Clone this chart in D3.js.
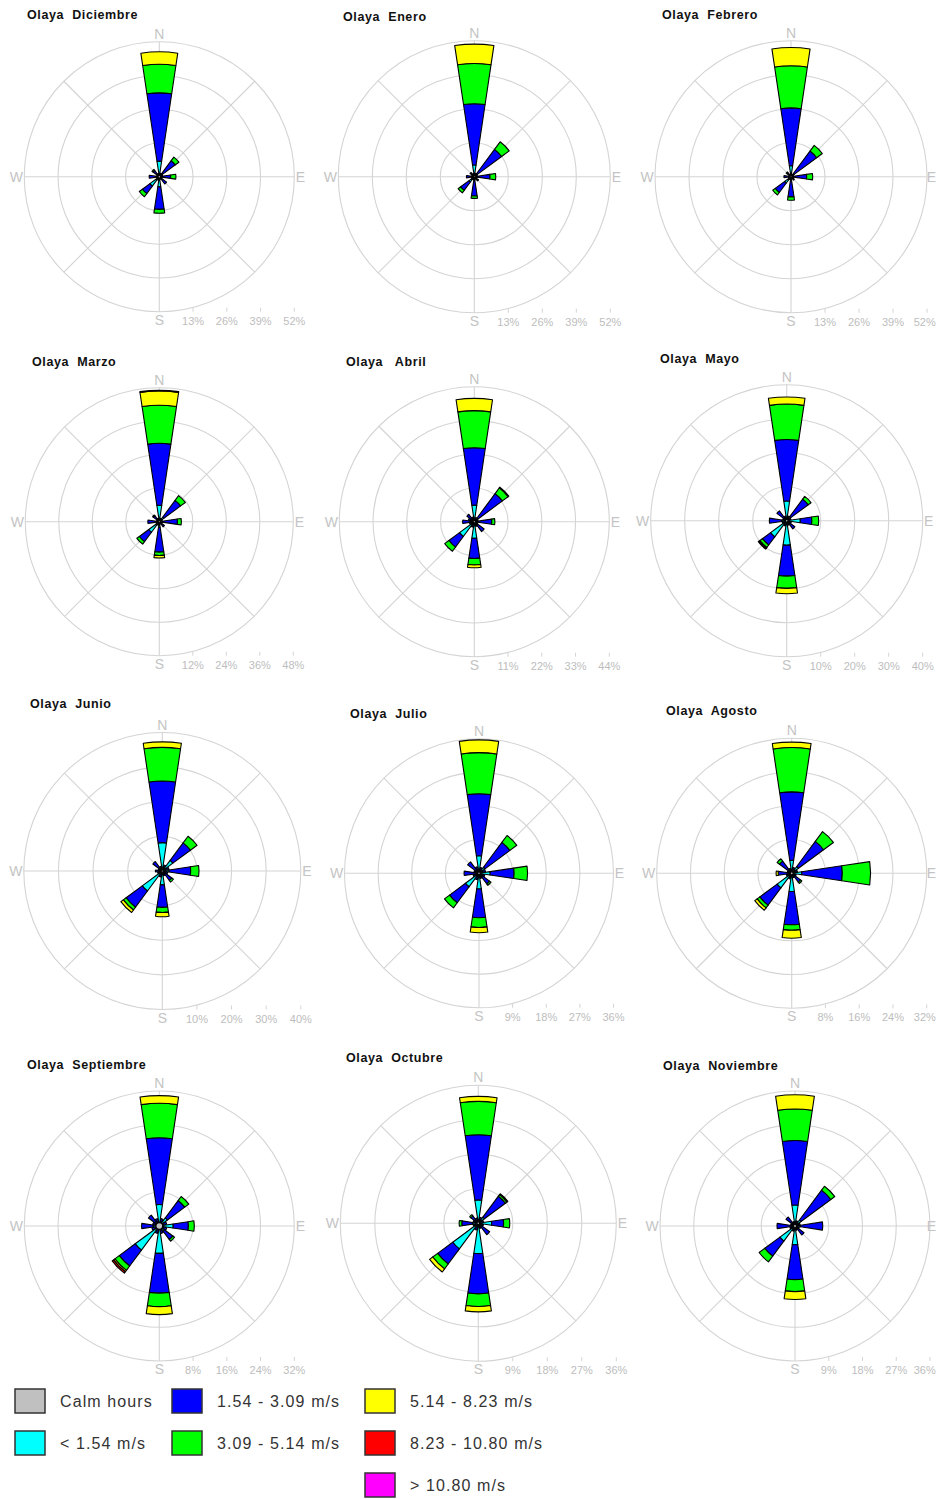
<!DOCTYPE html>
<html><head><meta charset="utf-8">
<script src="https://cdn.jsdelivr.net/npm/d3@7"></script>
<style>
html,body{margin:0;padding:0;background:#fff;}
svg{display:block;}
text{font-family:"Liberation Sans",Arial,sans-serif;}
</style></head><body>
<svg id="chart" width="937" height="1499"></svg>
<script>
// ---------------- DATA ----------------
const directions = ["N","NNE","NE","ENE","E","ESE","SE","SSE","S","SSW","SW","WSW","W","WNW","NW","NNW"];
const speedClasses = ["< 1.54 m/s","1.54 - 3.09 m/s","3.09 - 5.14 m/s","5.14 - 8.23 m/s","8.23 - 10.80 m/s","> 10.80 m/s"];
const speedColors = ["#00ffff","#0000ff","#00ff00","#ffff00","#ff0000","#ff00ff"];
const calmLabel = "Calm hours";
const calmColor = "#c0c0c0";
const station = "Olaya";
const monthNames = ["Diciembre","Enero","Febrero","Marzo","Abril","Mayo","Junio","Julio","Agosto","Septiembre","Octubre","Noviembre"];
const titleGaps = ["  ","  ","  ","  ","   ","  ","  ","  ","  ","  ","  ","  "];
const tickLabels = [
  [13,26,39,52],[13,26,39,52],[13,26,39,52],
  [12,24,36,48],[11,22,33,44],[10,20,30,40],
  [10,20,30,40],[9,18,27,36],[8,16,24,32],
  [8,16,24,32],[9,18,27,36],[9,18,27,36]
];
const calmPct = [0.5,0.4,0.4,0.4,0.4,0.4,0.35,0.35,0.35,0.8,0.35,0.4];

// rows: N..NNW ; columns: <1.54, 1.54-3.09, 3.09-5.14, 5.14-8.23, 8.23-10.80, >10.80 (%)
const diciembre = [
  [6.0,26.3,11.0,4.8],[0.8,0.6],[1.5,6.2,1.7],[0.8,0.5],[1.0,3.4,2.0],[0.6,0.5],[1.0,2.5],[0.7,0.3],
  [3.9,8.7,1.5],[1.0,0.4],[4.5,3.6,1.5],[0.8,0.4],[1.0,2.9],[0.6,0.4],[0.8,2.2,0.5],[0.8,0.5]
];
const enero = [
  [4.5,23.4,15.4,7.4],[0.8,0.5],[1.5,11.5,3.6],[0.6,0.6],[1.2,4.8,2.2],[0.5,0.5],[0.8,1.2],[0.5,0.5],
  [1.5,5.9,0.9],[0.7,0.5],[2.5,4.0,1.2],[0.6,0.6],[0.8,2.2],[0.5,0.5],[0.6,1.4],[0.6,0.6]
];
const febrero = [
  [4.2,22.1,16.1,7.0],[0.6,0.4],[1.5,10.7,2.7],[0.5,0.5],[1.0,5.0,2.3],[0.5,0.4],[0.6,1.0],[0.5,0.4],
  [1.5,6.2,1.3],[0.6,0.5],[3.0,4.5,1.2],[0.5,0.5],[0.8,1.9],[0.5,0.4],[0.6,1.4,0.3],[0.6,0.5]
];
const marzo = [
  [5.9,22.2,13.6,5.1,0.3],[0.8,0.5],[2.0,7.5,2.1],[0.6,0.5],[1.0,5.5,1.4],[0.5,0.5],[0.8,1.5],[0.5,0.4],
  [2.0,8.9,1.2,0.9],[0.8,0.5],[4.7,4.2,1.1],[0.6,0.6],[1.0,3.1],[0.5,0.5],[0.8,1.8,0.4],[0.7,0.6]
];
const abril = [
  [5.4,18.7,12.1,4.0],[0.8,0.6],[1.5,9.9,2.3,0.3],[0.6,0.6],[1.2,4.5,1.0],[0.6,0.6],[1.0,3.0],[0.8,0.8],
  [5.4,6.6,2.1,0.9],[1.0,0.8],[6.0,4.3,1.7],[0.8,0.8],[1.0,2.8],[0.8,1.2],[1.0,2.0],[0.8,0.8]
];
const mayo = [
  [5.8,18.1,10.4,2.1],[0.8,0.6],[1.5,6.4,1.0],[0.8,0.5],[4.0,3.4,2.0],[0.8,0.6],[1.0,2.0],[0.8,0.6],
  [7.2,9.1,3.6,1.6],[1.0,0.6],[5.9,3.0,0.9,0.3,0.3],[0.8,0.6],[1.5,3.6],[0.6,0.6],[1.0,2.6],[0.8,0.6]
];
const junio = [
  [8.2,17.8,9.7,1.6],[1.0,0.8],[3.8,6.3,2.4],[1.0,1.0],[2.0,6.2,2.4],[0.8,0.8],[1.0,2.4,0.6],[0.8,0.6],
  [4.0,6.5,1.5,1.2],[1.0,0.8],[7.2,5.8,1.0,0.9],[0.8,0.6],[0.8,1.2],[0.6,0.6],[1.0,2.4],[0.8,0.6]
];
const julio = [
  [4.7,16.6,11.0,3.4],[0.8,0.8],[2.0,8.3,2.3],[1.0,0.8],[3.0,6.4,3.6],[0.8,0.8],[1.0,2.5,0.5],[0.8,0.6],
  [4.2,7.7,2.6,1.4],[1.0,0.8],[4.5,5.3,1.7],[0.8,0.8],[1.0,3.0],[0.8,0.6],[1.0,2.8],[1.0,0.8]
];
const agosto = [
  [3.1,16.2,10.5,1.3],[0.8,0.6],[2.0,7.4,2.9],[0.8,0.6],[2.4,9.6,6.7],[0.6,0.5],[0.8,1.8,0.4],[0.6,0.5],
  [4.3,7.9,1.3,1.9],[0.8,0.6],[4.3,5.1,0.8,0.7],[0.8,0.5],[0.8,2.4,0,0.5],[0.6,0.5],[1.0,2.6,0.7],[0.6,0.6]
];
const septiembre = [
  [5.1,15.8,8.2,1.8],[1.0,0.8],[2.4,5.1,1.2],[1.0,0.8],[3.3,3.6,1.4],[1.0,0.8],[1.5,2.5,0.5],[1.0,0.8],
  [6.5,9.4,3.2,1.9],[1.0,0.8],[7.1,4.7,1.3,0.4,0.4],[1.0,0.8],[1.5,2.7],[0.8,0.8],[1.0,2.2],[1.0,0.8]
];
const octubre = [
  [6.1,17.0,8.7,1.3],[0.8,0.8],[2.0,6.8,0.5,0.3],[0.8,0.6],[3.5,3.1,1.6],[0.8,0.6],[1.0,2.7],[0.8,0.6],
  [7.9,10.5,3.3,1.4],[1.0,0.8],[8.3,4.9,1.6,1.0],[0.8,0.6],[1.5,2.8,0.7],[0.8,0.6],[0.8,1.6,0.4],[0.8,0.6]
];
const noviembre = [
  [5.6,17.2,8.4,3.8],[0.8,0.6],[2.0,9.9,1.3],[0.8,0.6],[1.5,5.9],[0.6,0.6],[1.0,2.0],[0.6,0.6],
  [5.0,9.3,3.2,2.1],[0.8,0.6],[5.0,5.0,1.9],[0.8,0.6],[1.0,3.8],[0.6,0.6],[0.8,2.2],[0.6,0.6]
];
const monthData = [diciembre,enero,febrero,marzo,abril,mayo,junio,julio,agosto,septiembre,octubre,noviembre];

// ---------------- LAYOUT ----------------
const layout = [
  {cx:159.3,cy:176.7,r:135,tx:27,ty:18.5},
  {cx:474.3,cy:176.7,r:136,tx:343,ty:20.5},
  {cx:791,cy:176.7,r:136,tx:662,ty:19},
  {cx:159.3,cy:521.7,r:134,tx:32,ty:365.5},
  {cx:474.3,cy:521.7,r:135,tx:346,ty:365.5},
  {cx:786.7,cy:520.7,r:136,tx:660,ty:362.5},
  {cx:162.3,cy:871,r:138.5,tx:30,ty:707.5},
  {cx:479,cy:873.3,r:134.5,tx:350,ty:717.5},
  {cx:791.7,cy:873.3,r:135,tx:666,ty:714.5},
  {cx:159.3,cy:1226,r:135,tx:27,ty:1068.5},
  {cx:478.3,cy:1223.3,r:138,tx:346,ty:1061.5},
  {cx:795,cy:1226,r:135,tx:663,ty:1069.5}
];

const W = 937;
const svg = d3.select("#chart");
const gridColor = "#d4d4d4";
const halfWidth = 8.5 * Math.PI / 180;

monthData.forEach((rows, m) => {
  const L = layout[m];
  const ticks = tickLabels[m];
  const scale = d3.scaleLinear().domain([0, ticks[ticks.length-1]]).range([0, L.r]);
  const R = L.r;

  svg.append("text")
    .attr("x", L.tx).attr("y", L.ty)
    .attr("font-size", 12.5).attr("font-weight", "bold")
    .attr("letter-spacing", 0.6)
    .style("white-space", "pre")
    .attr("fill", "#111")
    .text(station + titleGaps[m] + monthNames[m]);

  const g = svg.append("g").attr("transform", `translate(${L.cx},${L.cy})`);

  g.selectAll("circle.ring").data(ticks).enter().append("circle")
    .attr("class","ring").attr("r", d => scale(d))
    .attr("fill","none").attr("stroke",gridColor).attr("stroke-width",1.1);

  [0,45,90,135].forEach(a => {
    const rad = a*Math.PI/180;
    g.append("line")
      .attr("x1", -R*Math.sin(rad)).attr("y1", R*Math.cos(rad))
      .attr("x2", R*Math.sin(rad)).attr("y2", -R*Math.cos(rad))
      .attr("stroke",gridColor).attr("stroke-width",1.1);
  });

  const cl = g.append("g").attr("fill","#c4c4c4").attr("font-size",14).attr("text-anchor","middle");
  cl.append("text").attr("x",0).attr("y",-R-3).text("N");
  cl.append("text").attr("x",0).attr("y",R+13).text("S");
  cl.append("text").attr("class","fit").attr("x",R+6).attr("y",5).text("E");
  cl.append("text").attr("x",-R-8).attr("y",5).text("W");

  g.selectAll("line.tk").data(ticks).enter().append("line")
    .attr("x1", d => scale(d)).attr("x2", d => scale(d))
    .attr("y1", R-4).attr("y2", R)
    .attr("stroke", gridColor);
  g.selectAll("text.tl").data(ticks).enter().append("text")
    .attr("class","fit")
    .attr("x", d => scale(d)).attr("y", R+13)
    .attr("text-anchor","middle").attr("font-size",11).attr("fill","#bdbdbd")
    .text(d => d + "%");

  const arc = d3.arc();
  rows.forEach((vals, i) => {
    const a = i * 2 * Math.PI / directions.length;
    let cum = 0;
    vals.forEach((v, k) => {
      if (!v) return;
      const inner = cum; cum += v;
      g.append("path")
        .attr("d", arc({innerRadius: scale(inner), outerRadius: scale(cum), startAngle: a - halfWidth, endAngle: a + halfWidth}))
        .attr("fill", speedColors[k]).attr("stroke","#000").attr("stroke-width",1.1)
        .attr("stroke-linejoin","round");
    });
  });

  g.append("circle").attr("r", scale(calmPct[m]))
    .attr("fill", calmColor).attr("stroke","#000").attr("stroke-width",1.2);
});

// keep texts inside the right edge
svg.selectAll("text.fit").each(function() {
  const b = this.getBoundingClientRect();
  if (b.right > W - 1) {
    const x = +this.getAttribute("x");
    this.setAttribute("x", x - (b.right - (W - 1)));
  }
});

// ---------------- LEGEND ----------------
const legendItems = [
  {label: calmLabel, color: calmColor, x: 15, y: 1389},
  {label: speedClasses[0], color: speedColors[0], x: 15, y: 1431},
  {label: speedClasses[1], color: speedColors[1], x: 172, y: 1389},
  {label: speedClasses[2], color: speedColors[2], x: 172, y: 1431},
  {label: speedClasses[3], color: speedColors[3], x: 365, y: 1389},
  {label: speedClasses[4], color: speedColors[4], x: 365, y: 1431},
  {label: speedClasses[5], color: speedColors[5], x: 365, y: 1473}
];
const lg = svg.append("g");
legendItems.forEach(d => {
  lg.append("rect").attr("x", d.x).attr("y", d.y).attr("width", 30).attr("height", 24)
    .attr("fill", d.color).attr("stroke", "#333").attr("stroke-width", 1.5);
  lg.append("text").attr("x", d.x + 45).attr("y", d.y + 17.5)
    .attr("font-size", 16).attr("letter-spacing", 1.1).attr("fill", "#333").text(d.label);
});
</script>
</body></html>
